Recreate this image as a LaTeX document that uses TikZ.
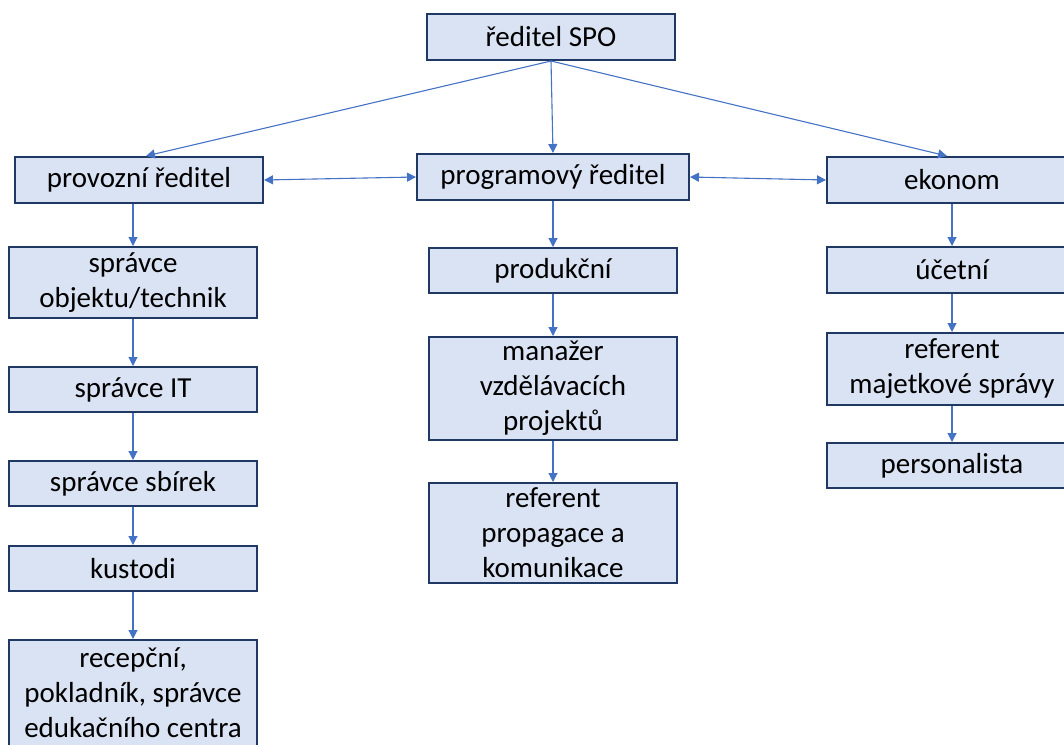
\documentclass[tikz,border=0pt]{standalone}
\usepackage{fontspec}
\setmainfont{Carlito}
\usetikzlibrary{arrows.meta}
\definecolor{boxfill}{HTML}{DAE3F3}
\definecolor{boxline}{HTML}{1F3864}
\definecolor{conn}{HTML}{4472C4}
\tikzset{
  orgbox/.style={draw=boxline, fill=boxfill, line width=2pt, inner sep=0pt,
    align=center, font=\fontsize{29}{35}\selectfont, text=black},
  link/.style={draw=conn, line width=1.1pt, -{Triangle[length=9pt,width=9pt]}},
  dlink/.style={draw=conn, line width=1.1pt, {Triangle[length=9pt,width=9pt]}-{Triangle[length=9pt,width=9pt]}}
}
\begin{document}
\begin{tikzpicture}[x=1pt,y=-1pt]
\useasboundingbox (0,0) rectangle (1064,744);
\clip (0,0) rectangle (1064,744);
\node[orgbox, minimum width=248pt, minimum height=46pt] (top) at (551,37) {ředitel SPO};
\node[orgbox, minimum width=272pt, minimum height=46pt] (prog) at (553,177) {programový ředitel};
\node[orgbox, minimum width=248pt, minimum height=46pt] (prov) at (139,180) {provozní ředitel};
\node[orgbox, minimum width=250pt, minimum height=46pt] (ekon) at (952,180) {ekonom};
% left column
\node[orgbox, minimum width=248pt, minimum height=71pt] (obj) at (133,282.5) {správce\\objektu/technik};
\node[orgbox, minimum width=248pt, minimum height=45pt] (it) at (133,389.5) {správce IT};
\node[orgbox, minimum width=248pt, minimum height=45pt] (sbi) at (133,483.5) {správce sbírek};
\node[orgbox, minimum width=248pt, minimum height=45pt] (kus) at (133,568.5) {kustodi};
\node[orgbox, minimum width=248pt, minimum height=106pt] (rec) at (133,693) {recepční,\\pokladník, správce\\edukačního centra};
% middle column
\node[orgbox, minimum width=248pt, minimum height=45pt] (prod) at (553,270.5) {produkční};
\node[orgbox, minimum width=248pt, minimum height=103pt] (man) at (553,388.5) {manažer\\vzdělávacích\\projektů};
\node[orgbox, minimum width=248pt, minimum height=100pt] (refp) at (553,533) {referent\\propagace a\\komunikace};
% right column
\node[orgbox, minimum width=250pt, minimum height=46pt] (uce) at (952,270) {účetní};
\node[orgbox, minimum width=250pt, minimum height=72pt] (refm) at (952,369) {referent\\majetkové správy};
\node[orgbox, minimum width=250pt, minimum height=45pt] (per) at (952,465.5) {personalista};
% connectors
\draw[link] (top.south) -- ([xshift=7pt]prov.north);
\draw[link] (top.south) -- (prog.north);
\draw[link] (top.south) -- ([xshift=-5pt]ekon.north);
\draw[dlink] (prov.east) -- (prog.west);
\draw[dlink] (prog.east) -- (ekon.west);
\draw[link] (obj.north |- prov.south) -- (obj.north);
\draw[link] (obj.south) -- (it.north);
\draw[link] (it.south) -- (sbi.north);
\draw[link] (sbi.south) -- (kus.north);
\draw[link] (kus.south) -- (rec.north);
\draw[link] (prog.south) -- (prod.north);
\draw[link] (prod.south) -- (man.north);
\draw[link] (man.south) -- (refp.north);
\draw[link] (ekon.south) -- (uce.north);
\draw[link] (uce.south) -- (refm.north);
\draw[link] (refm.south) -- (per.north);
\end{tikzpicture}
\end{document}
